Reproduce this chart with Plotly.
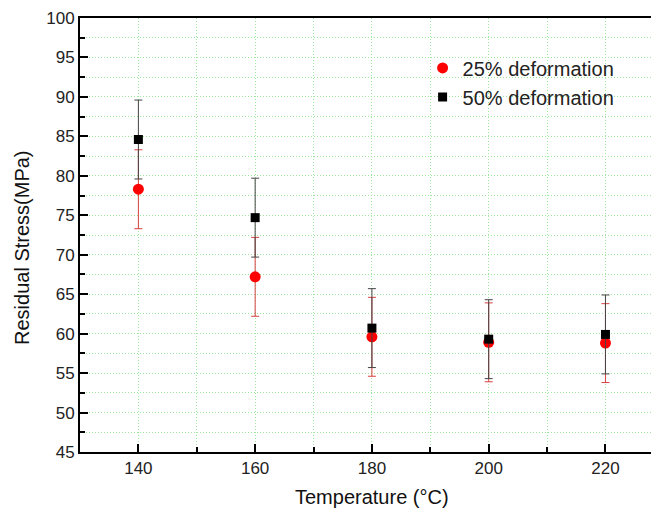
import plotly.graph_objects as go

temperature = [140, 160, 180, 200, 220]
stress_25 = [78.3, 67.2, 59.6, 58.9, 58.8]
err_25 = [5.0, 5.0, 5.0, 5.0, 5.0]
stress_50 = [84.6, 74.7, 60.7, 59.3, 59.9]
err_50 = [5.0, 5.0, 5.0, 5.0, 5.0]

x_title = "Temperature (\u00b0C)"
y_title = "Residual Stress(MPa)"

font_family = "Liberation Sans, Arial, sans-serif"
grid_color = "#9ee69e"
grid_dash = "1px,2px"

fig = go.Figure()
fig.add_trace(go.Scatter(
    x=temperature, y=stress_25, mode="markers", name="25% deformation",
    marker=dict(symbol="circle", size=11, color="#ff0000"),
    error_y=dict(type="data", array=err_25, visible=True, color="#d94040",
                 thickness=1, width=4),
))
fig.add_trace(go.Scatter(
    x=temperature, y=stress_50, mode="markers", name="50% deformation",
    marker=dict(symbol="square", size=9, color="#000000"),
    error_y=dict(type="data", array=err_50, visible=True, color="#444444",
                 thickness=1, width=4),
))

fig.update_layout(
    width=651, height=516,
    margin=dict(l=80, r=0, t=18, b=64, autoexpand=False),
    paper_bgcolor="white", plot_bgcolor="white",
    font=dict(family=font_family, color="#222222"),
    showlegend=True,
    legend=dict(x=0.6, y=0.93, xanchor="left", yanchor="top",
                bgcolor="rgba(0,0,0,0)", font=dict(size=20, color="#222222"),
                itemsizing="trace"),
    xaxis=dict(
        range=[130, 227.8], tickmode="linear", tick0=140, dtick=20,
        ticks="inside", ticklen=8, tickwidth=1.5, tickcolor="black",
        showline=True, linecolor="black", linewidth=2, mirror=True,
        showgrid=True, gridcolor=grid_color, griddash=grid_dash, gridwidth=1,
        minor=dict(dtick=10, tick0=130, ticks="inside", ticklen=5, tickcolor="black",
                   tickwidth=1.5, showgrid=True, gridcolor=grid_color, griddash=grid_dash),
        tickfont=dict(size=17, color="#222222"),
        automargin=False, zeroline=False,
    ),
    yaxis=dict(
        range=[45, 100], tickmode="linear", tick0=45, dtick=5,
        ticks="inside", ticklen=8, tickwidth=1.5, tickcolor="black",
        showline=True, linecolor="black", linewidth=2,
        showgrid=True, gridcolor=grid_color, griddash=grid_dash, gridwidth=1,
        minor=dict(dtick=2.5, tick0=45, ticks="inside", ticklen=5, tickcolor="black",
                   tickwidth=1.5, showgrid=True, gridcolor=grid_color, griddash=grid_dash),
        tickfont=dict(size=17, color="#222222"),
        automargin=False, zeroline=False,
    ),
    annotations=[
        dict(text=x_title, xref="paper", yref="paper", x=0.0, y=0, xshift=292,
             yshift=-45, xanchor="center", yanchor="middle", showarrow=False,
             font=dict(size=20, color="#111111")),
        dict(text=y_title, xref="paper", yref="paper", x=0, y=0.5, xshift=-58,
             yshift=-13, xanchor="center", yanchor="middle", textangle=-90,
             showarrow=False, font=dict(size=20, color="#111111")),
    ],
)

fig.write_html("out.html", config={"displayModeBar": False},
               post_script="document.body.style.margin='0';document.body.style.overflow='hidden';")
